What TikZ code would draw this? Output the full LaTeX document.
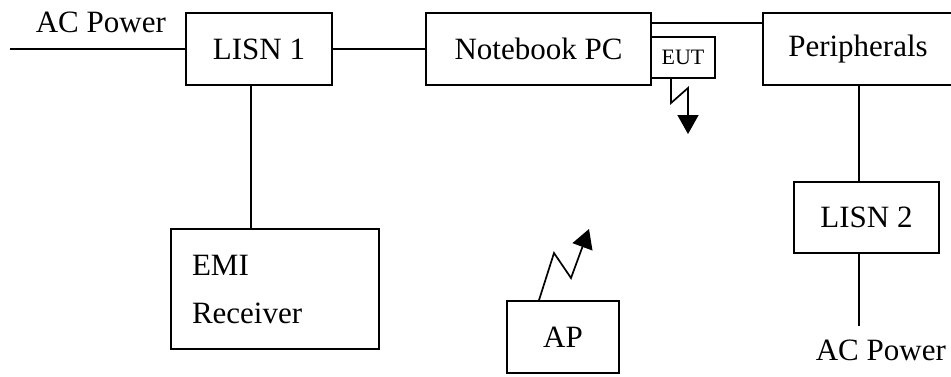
\documentclass[tikz,border=0pt]{standalone}
\usepackage{fontspec}
\setmainfont{Liberation Serif}
\usetikzlibrary{arrows.meta}
\begin{document}
\begin{tikzpicture}[x=1pt,y=-1pt,line width=1.7pt,
  blk/.style={draw,rectangle,inner sep=0pt,minimum height=72pt,font=\fontsize{31}{48}\selectfont},
  lbl/.style={inner sep=0pt,font=\fontsize{31}{48}\selectfont},
  bolt/.style={-{Triangle[length=19pt,width=21pt]},line join=miter}]
\useasboundingbox (0,0) rectangle (951,376);
\node[blk,minimum width=146pt] (lisn1) at (259,49) {LISN 1};
\node[blk,minimum width=225pt] (nb) at (538.5,49) {Notebook PC};
\node[blk,minimum width=190pt] (per) at (858,49) {Peripherals};
\node[draw,rectangle,inner sep=0pt,minimum width=64pt,minimum height=41pt,font=\fontsize{22}{26}\selectfont] (eut) at (683,57.5) {EUT};
\node[blk,minimum width=145pt,minimum height=71pt] (lisn2) at (866.5,217.5) {LISN 2};
\node[blk,minimum width=208pt,minimum height=120pt,text width=166pt,align=left] (emi) at (275,289) {EMI\\Receiver};
\node[blk,minimum width=112pt] (ap) at (563,337) {AP};
\node[lbl,anchor=base west] (ac1) at (35,32) {AC Power};
\node[lbl,anchor=base west] (ac2) at (815,360) {AC Power};
\coordinate (acl) at (10,49);
\coordinate (acb) at (859,326);
\coordinate (emitop) at (251,229);
\coordinate (lisnbot) at (251,85);
\draw (acl) -- (lisn1.west);
\draw (lisn1.east) -- (nb.west);
\draw (lisnbot) -- (emitop);
\draw ([yshift=-11pt]nb.north east) -- ([yshift=-11pt]per.north west);
\draw (per.south -| acb) -- (lisn2.north -| acb);
\draw (lisn2.south -| acb) -- (acb);
\draw[bolt] (eut.south -| 671,0) -- (671,103) -- (688,88) -- (688,134);
\draw[bolt] (ap.north -| 539,0) -- (554,253) -- (571,278) -- (589,229);
\end{tikzpicture}
\end{document}
